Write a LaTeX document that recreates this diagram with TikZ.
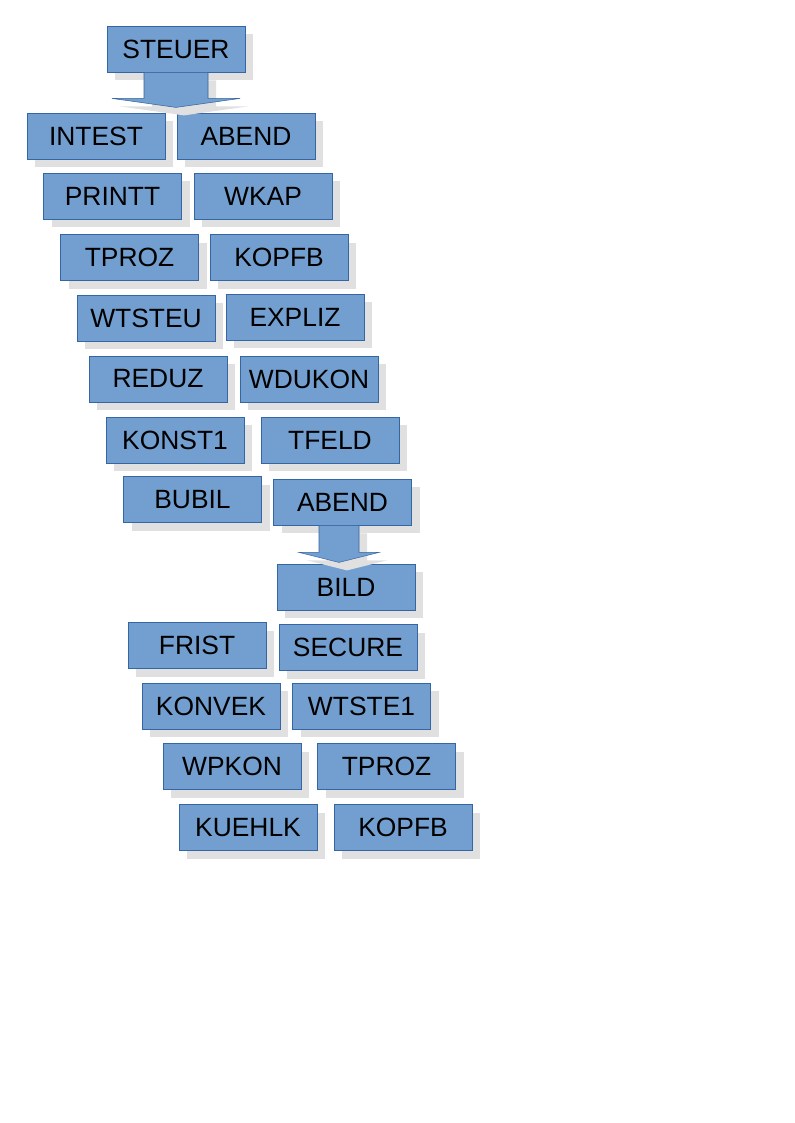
\documentclass[tikz,border=0pt]{standalone}
\usepackage{fontspec}
\setmainfont{Liberation Sans}
\usetikzlibrary{shadows,calc}
\definecolor{boxfill}{HTML}{729FCF}
\definecolor{boxline}{HTML}{3465A4}
\definecolor{shadowgray}{HTML}{E0E0E0}
\tikzset{
  myshadow/.style={drop shadow={shadow xshift=6pt,shadow yshift=-6pt,fill=shadowgray,opacity=1}},
  box/.style={rectangle,draw=boxline,line width=0.6pt,fill=boxfill,minimum width=103.5pt,minimum height=34.5pt,inner sep=0pt,font=\fontsize{19.8}{22}\selectfont,text=black,myshadow},
  blockarrow/.style={draw=boxline,line width=0.4pt,fill=boxfill,myshadow}
}
\begin{document}
\begin{tikzpicture}[x=0.75pt,y=-0.75pt]
\useasboundingbox (0,0) rectangle (794,1123);
\node[box] (steuer) at (176,49) {STEUER};
\node[box] (intest) at (96,136) {INTEST};
\node[box] (abend1) at (246,136) {ABEND};
\node[box] (printt) at (112.5,196.5) {PRINTT};
\node[box] (wkap) at (263,196.5) {WKAP};
\node[box] (tproz1) at (129.5,257.5) {TPROZ};
\node[box] (kopfb1) at (279,257.5) {KOPFB};
\node[box] (wtsteu) at (146,318) {WTSTEU};
\node[box] (expliz) at (295,317) {EXPLIZ};
\node[box] (reduz) at (158,379) {REDUZ};
\node[box] (wdukon) at (309,379) {WDUKON};
\node[box] (konst1) at (175,440) {KONST1};
\node[box] (tfeld) at (330,440) {TFELD};
\node[box] (bubil) at (192.5,499.5) {BUBIL};
\node[box] (abend2) at (342.5,502) {ABEND};
\node[box] (bild) at (346,587) {BILD};
\node[box] (frist) at (197,645.5) {FRIST};
\node[box] (secure) at (348,647.5) {SECURE};
\node[box] (konvek) at (211,706) {KONVEK};
\node[box] (wtste1) at (361.5,706) {WTSTE1};
\node[box] (wpkon) at (232,766.5) {WPKON};
\node[box] (tproz2) at (386.5,766.5) {TPROZ};
\node[box] (kuehlk) at (248,827.5) {KUEHLK};
\node[box] (kopfb2) at (403,827.5) {KOPFB};
% block arrow STEUER -> next row
\coordinate (a1) at (steuer.south);
\path[blockarrow] ($(a1)+(-32,0)$) -- ($(a1)+(32,0)$) -- ($(a1)+(32,26)$) -- ($(a1)+(64,26)$) -- ($(a1)+(0,35)$) -- ($(a1)+(-64,26)$) -- ($(a1)+(-32,26)$) -- cycle;
% block arrow ABEND -> BILD
\coordinate (a2) at ($(abend2.south)+(-3.5,0)$);
\path[blockarrow] ($(a2)+(-20,0)$) -- ($(a2)+(20,0)$) -- ($(a2)+(20,27)$) -- ($(a2)+(40,27)$) -- ($(a2)+(0,37)$) -- ($(a2)+(-40,27)$) -- ($(a2)+(-20,27)$) -- cycle;
\end{tikzpicture}
\end{document}
